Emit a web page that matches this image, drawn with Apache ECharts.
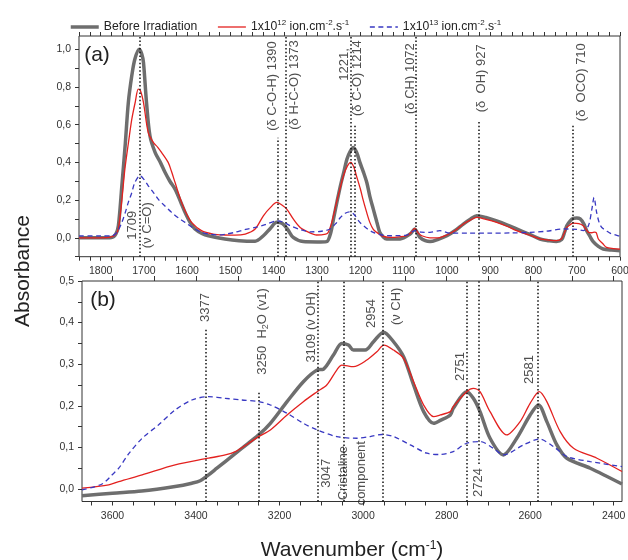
<!DOCTYPE html>
<html>
<head>
<meta charset="utf-8">
<script src="https://cdn.jsdelivr.net/npm/echarts@6/dist/echarts.min.js"></script>
<style>
html,body{margin:0;padding:0;background:#fff}
#chart{width:628px;height:560px}
</style>
</head>
<body>
<div id="chart"></div>
<script>
// ---------- Panel (a): 1850–600 cm-1 ----------
const beforeA = [
  [1850,0.0],[1800,0.0],[1775,0.002],[1765,0.02],[1759,0.064],[1751,0.276],[1743,0.50],
  [1736,0.717],[1728,0.86],[1721,0.947],[1711,1.0],[1705,0.975],[1701,0.929],[1694,0.717],
  [1686,0.54],[1674,0.452],[1662,0.40],[1651,0.346],[1640,0.30],[1628,0.258],[1615,0.19],
  [1605,0.135],[1594,0.085],[1582,0.047],[1565,0.022],[1551,0.011],[1513,-0.006],[1480,-0.015],
  [1443,-0.018],[1424,0.011],[1408,0.05],[1393,0.082],[1380,0.076],[1368,0.045],[1355,0.002],
  [1332,-0.02],[1300,-0.022],[1278,-0.02],[1268,0.03],[1262,0.1],[1254,0.19],[1246,0.276],
  [1238,0.35],[1231,0.417],[1223,0.46],[1216,0.479],[1208,0.45],[1201,0.40],[1193,0.35],
  [1185,0.293],[1178,0.22],[1170,0.152],[1162,0.085],[1155,0.029],[1147,0.005],[1139,-0.006],
  [1108,-0.006],[1085,0.02],[1074,0.047],[1068,0.025],[1062,0.002],[1050,-0.015],[1039,-0.02],
  [1020,-0.008],[1000,0.011],[980,0.04],[962,0.073],[945,0.10],[931,0.117],[910,0.108],
  [885,0.09],[860,0.068],[839,0.047],[810,0.02],[785,-0.006],[765,-0.015],[747,-0.02],
  [735,-0.01],[728,0.03],[723,0.064],[715,0.09],[708,0.103],[700,0.105],[692,0.1],[684,0.075],
  [677,0.038],[670,0.01],[662,-0.02],[650,-0.045],[639,-0.059],[620,-0.065],[600,-0.068]
];
const ion12A = [
  [1850,0.0],[1800,0.0],[1775,0.005],[1765,0.02],[1759,0.047],[1751,0.2],[1744,0.364],
  [1736,0.50],[1728,0.629],[1720,0.72],[1713,0.788],[1708,0.78],[1701,0.717],[1690,0.558],
  [1678,0.505],[1668,0.48],[1659,0.452],[1644,0.40],[1636,0.35],[1628,0.293],[1613,0.188],
  [1600,0.12],[1590,0.082],[1567,0.038],[1540,0.02],[1513,0.015],[1490,0.014],[1466,0.02],
  [1443,0.047],[1424,0.117],[1408,0.16],[1393,0.188],[1382,0.175],[1370,0.152],[1355,0.1],
  [1339,0.055],[1320,0.03],[1301,0.015],[1280,0.02],[1274,0.03],[1265,0.09],[1255,0.188],
  [1247,0.26],[1239,0.329],[1230,0.38],[1222,0.40],[1215,0.375],[1209,0.329],[1200,0.26],
  [1194,0.205],[1186,0.14],[1178,0.082],[1170,0.045],[1162,0.029],[1150,0.01],[1131,0.002],
  [1110,0.005],[1093,0.011],[1082,0.03],[1074,0.05],[1066,0.025],[1058,0.011],[1039,0.0],
  [1020,0.0],[1000,0.015],[980,0.04],[962,0.073],[945,0.095],[931,0.108],[910,0.098],
  [885,0.082],[860,0.06],[839,0.038],[810,0.015],[785,-0.006],[765,-0.012],[747,-0.015],
  [735,-0.005],[728,0.03],[723,0.055],[715,0.07],[708,0.078],[695,0.075],[685,0.064],
  [677,0.04],[673,0.029],[665,0.027],[659,0.03],[655,0.028],[650,-0.006],[640,-0.03],
  [631,-0.051],[615,-0.057],[600,-0.06]
];
const ion13A = [
  [1850,0.01],[1800,0.01],[1774,0.011],[1762,0.03],[1751,0.082],[1743,0.135],[1736,0.188],
  [1728,0.24],[1721,0.293],[1709,0.329],[1700,0.31],[1690,0.276],[1678,0.24],[1667,0.205],
  [1652,0.17],[1636,0.135],[1620,0.105],[1605,0.082],[1585,0.05],[1567,0.029],[1545,0.018],
  [1528,0.015],[1510,0.02],[1490,0.029],[1465,0.045],[1443,0.055],[1420,0.07],[1393,0.09],
  [1375,0.08],[1362,0.064],[1340,0.045],[1316,0.032],[1290,0.035],[1270,0.047],[1255,0.08],
  [1246,0.108],[1235,0.13],[1225,0.138],[1215,0.125],[1201,0.082],[1185,0.05],[1170,0.029],
  [1150,0.015],[1131,0.011],[1110,0.012],[1093,0.015],[1082,0.03],[1074,0.038],[1060,0.03],
  [1039,0.029],[1016,0.038],[993,0.025],[950,0.025],[900,0.025],[850,0.026],[808,0.029],
  [770,0.035],[731,0.047],[700,0.045],[685,0.038],[673,0.064],[665,0.152],[660,0.214],
  [654,0.135],[648,0.08],[642,0.055],[630,0.035],[623,0.025],[604,0.011],[600,0.01]
];

// ---------- Panel (b): 3673–2380 cm-1 ----------
const beforeB = [
  [3673,-0.016],[3600,-0.01],[3530,-0.005],[3450,0.006],[3410,0.014],[3390,0.02],[3370,0.034],
  [3350,0.05],[3330,0.066],[3290,0.098],[3250,0.13],[3222,0.158],[3182,0.21],[3143,0.258],
  [3110,0.286],[3095,0.288],[3071,0.322],[3051,0.35],[3035,0.346],[3023,0.334],[2995,0.334],
  [2975,0.354],[2951,0.377],[2927,0.354],[2903,0.318],[2879,0.25],[2855,0.186],[2831,0.158],
  [2815,0.165],[2791,0.178],[2784,0.194],[2752,0.234],[2736,0.218],[2720,0.186],[2696,0.122],
  [2664,0.082],[2632,0.122],[2600,0.178],[2580,0.202],[2560,0.162],[2536,0.106],[2512,0.074],
  [2456,0.05],[2380,0.012]
];
const ion12B = [
  [3673,0.002],[3609,0.01],[3585,0.018],[3529,0.034],[3450,0.058],[3370,0.074],[3330,0.082],
  [3306,0.09],[3274,0.11],[3250,0.126],[3222,0.142],[3182,0.178],[3143,0.21],[3110,0.234],
  [3087,0.25],[3063,0.286],[3051,0.298],[3023,0.294],[2991,0.31],[2967,0.33],[2950,0.346],
  [2927,0.334],[2903,0.314],[2879,0.258],[2855,0.202],[2831,0.174],[2815,0.178],[2791,0.186],
  [2784,0.198],[2752,0.234],[2736,0.242],[2720,0.234],[2696,0.186],[2656,0.13],[2624,0.162],
  [2600,0.206],[2578,0.234],[2560,0.21],[2528,0.138],[2496,0.098],[2440,0.074],[2380,0.042]
];
const ion13B = [
  [3673,-0.002],[3625,0.012],[3600,0.035],[3585,0.05],[3561,0.085],[3529,0.122],[3490,0.154],
  [3450,0.19],[3410,0.214],[3370,0.222],[3330,0.218],[3290,0.214],[3250,0.21],[3222,0.202],
  [3182,0.182],[3143,0.158],[3110,0.142],[3063,0.126],[3015,0.122],[2983,0.126],[2955,0.131],
  [2927,0.126],[2887,0.106],[2847,0.086],[2815,0.083],[2784,0.09],[2752,0.11],[2720,0.114],
  [2688,0.098],[2664,0.082],[2616,0.106],[2578,0.12],[2544,0.102],[2512,0.078],[2456,0.066],
  [2380,0.054]
];

// Tick labels
const xLabelsA = [1800,1700,1600,1500,1400,1300,1200,1100,1000,900,800,700,600];
const yLabelsA = [0,0.2,0.4,0.6,0.8,1.0];
const xLabelsB = [3600,3400,3200,3000,2800,2600,2400];
const yLabelsB = [0,0.1,0.2,0.3,0.4,0.5];

// Assigned band positions (cm-1)
const bandsA = [1709,1390,1373,1221,1214,1072,927,710];
const bandsB = [3377,3250,3109,3047,2954,2751,2724,2581];

// Vertical extent of each band marker, in absorbance units
const spanA = [[-0.1,1.07],[-0.1,0.53],[-0.1,1.07],[-0.1,1.07],[-0.1,0.60],[-0.1,1.07],[-0.1,0.62],[-0.1,0.605]];
const spanB = [[-0.03,0.385],[-0.03,0.235],[-0.03,0.5],[-0.03,0.5],[-0.03,0.5],[-0.03,0.5],[0.06,0.5],[-0.03,0.5]];

// Band captions: anchor 'top' hangs the text down from the point,
// 'bottom' stands it up from the point, 'center' centres it.
const captionsA = [
  {text:'1709\n(ν C=O)', at:[1709,0.067], anchor:'center', lh:15},
  {text:'(δ C-O-H) 1390', at:[1404,1.042], anchor:'top'},
  {text:'(δ H-C-O) 1373', at:[1353,1.048], anchor:'top'},
  {text:'1221,', at:[1236,1.005], anchor:'top'},
  {text:'(δ C-O) 1214', at:[1206,1.048], anchor:'top'},
  {text:'(δ CH) 1072', at:[1085,1.032], anchor:'top'},
  {text:'(δ  OH) 927', at:[920,1.026], anchor:'top'},
  {text:'(δ  OCO) 710', at:[690,1.032], anchor:'top'}
];
const captionsB = [
  {text:'3377', at:[3377,0.471], anchor:'top'},
  {text:'3250  H{sub|2}O (v1)', at:[3240,0.483], anchor:'top'},
  {text:'3109 (ν OH)', at:[3123,0.474], anchor:'top'},
  {text:'3047\nCristaline\ncomponent', at:[3047,0.038], anchor:'center', lh:17.5},
  {text:'2954', at:[2979,0.387], anchor:'bottom'},
  {text:'(ν CH)', at:[2921,0.394], anchor:'bottom'},
  {text:'2751', at:[2768,0.329], anchor:'top'},
  {text:'2724', at:[2724,-0.019], anchor:'bottom'},
  {text:'2581', at:[2601,0.322], anchor:'top'}
];

const FONT = 'Liberation Sans, Arial, sans-serif';
const INK = '#222';

function steps(from, to, step) {
  const out = [];
  const n = Math.round((to - from) / step);
  for (let i = 0; i <= n; i++) out.push(+(from + i * step).toFixed(4));
  return out;
}
const comma = v => v.toFixed(1).replace('.', ',');
const plain = v => String(v);

function xAxisCfg(grid, pos, min, max, ticks, labels, tickLen) {
  return {
    type: 'value', gridIndex: grid, position: pos, min: min, max: max, inverse: true,
    axisLine: {show: false, onZero: false},
    splitLine: {show: false},
    axisTick: {show: true, customValues: ticks, length: tickLen, lineStyle: {color: '#333', width: 1}},
    axisLabel: labels ? {customValues: labels, formatter: plain, margin: 9, fontSize: 10.5, color: '#333', fontFamily: FONT}
                      : {show: false}
  };
}
function yAxisCfg(grid, min, max, ticks, labels) {
  return {
    type: 'value', gridIndex: grid, min: min, max: max,
    axisLine: {show: false, onZero: false},
    splitLine: {show: false},
    axisTick: {show: true, customValues: ticks, length: 4, lineStyle: {color: '#333', width: 1}},
    axisLabel: {customValues: labels, formatter: comma, margin: 8, fontSize: 10.5, color: '#333', fontFamily: FONT}
  };
}

const ALIGN = {top: 'right', bottom: 'left', center: 'center'};
function captionSeries(caps, bands, spans, xi, yi) {
  return {
    type: 'scatter', xAxisIndex: xi, yAxisIndex: yi, symbolSize: 0, clip: false, silent: true,
    label: {
      show: true, position: 'inside', rotate: 90, fontSize: 13, color: INK, fontFamily: FONT,
      rich: {sub: {fontSize: 9, verticalAlign: 'bottom', fontFamily: FONT, color: INK}}
    },
    data: caps.map(c => ({
      value: c.at,
      label: {formatter: c.text, align: ALIGN[c.anchor], verticalAlign: 'middle', lineHeight: c.lh || 15}
    })),
    markLine: {
      silent: true, symbol: ['none', 'none'], animation: false,
      label: {show: false},
      lineStyle: {color: '#111', type: [1.5, 2.2], width: 1.5},
      data: bands.map((b, i) => [{coord: [b, spans[i][0]]}, {coord: [b, spans[i][1]]}])
    }
  };
}

const NAMES = ['Before Irradiation', 'ion12', 'ion13'];
const LEGEND_TEXT = {
  'Before Irradiation': 'Before Irradiation',
  'ion12': '1x10{sup|12} ion.cm{sup|-2}.s{sup|-1}',
  'ion13': '1x10{sup|13} ion.cm{sup|-2}.s{sup|-1}'
};
const STYLE = [
  {color: '#6e6e6e', lineStyle: {width: 3.5, color: '#6e6e6e'}},
  {color: '#e3211f', lineStyle: {width: 1.3, color: '#e3211f'}},
  {color: '#3838c2', lineStyle: {width: 1.3, color: '#3838c2', type: [5, 3.5]}}
];
function curve(i, data, xi, yi) {
  return Object.assign({
    name: NAMES[i], type: 'line', xAxisIndex: xi, yAxisIndex: yi, data: data,
    symbol: 'none', smooth: 0.3, z: 3 + i
  }, STYLE[i]);
}

const chart = echarts.init(document.getElementById('chart'), null, {renderer: 'canvas'});
chart.setOption({
  animation: false,
  backgroundColor: '#fff',
  legend: {
    data: NAMES.map((n, i) => ({name: n, lineStyle: Object.assign({}, STYLE[i].lineStyle)})),
    left: 64, top: 14, itemWidth: 28, itemHeight: 14, itemGap: 20,
    formatter: n => LEGEND_TEXT[n],
    itemStyle: {opacity: 0},
    textStyle: {
      fontSize: 12.2, color: INK, fontFamily: FONT, lineHeight: 16,
      rich: {sup: {fontSize: 8, verticalAlign: 'top', fontFamily: FONT, color: INK}}
    }
  },
  grid: [
    {left: 79, top: 36, width: 541, height: 220.7, show: true, borderColor: '#333', borderWidth: 1,
     backgroundColor: 'transparent', containLabel: false, outerBoundsMode: 'none'},
    {left: 82, top: 281, width: 540, height: 220.5, show: true, borderColor: '#333', borderWidth: 1,
     backgroundColor: 'transparent', containLabel: false, outerBoundsMode: 'none'}
  ],
  xAxis: [
    xAxisCfg(0, 'bottom', 600, 1850, steps(600, 1850, 25), xLabelsA, 4),
    xAxisCfg(0, 'top', 600, 1850, steps(600, 1850, 25), null, 4),
    xAxisCfg(1, 'bottom', 2380, 3673, steps(2400, 3650, 50), xLabelsB, 4),
    xAxisCfg(1, 'top', 2380, 3673, steps(2400, 3600, 100), null, 5)
  ],
  yAxis: [
    yAxisCfg(0, -0.1, 1.07, steps(-0.1, 1.0, 0.1), yLabelsA),
    yAxisCfg(1, -0.03, 0.5, steps(0, 0.5, 0.05), yLabelsB)
  ],
  series: [
    curve(0, beforeA, 0, 0), curve(1, ion12A, 0, 0), curve(2, ion13A, 0, 0),
    curve(0, beforeB, 2, 1), curve(1, ion12B, 2, 1), curve(2, ion13B, 2, 1),
    captionSeries(captionsA, bandsA, spanA, 0, 0),
    captionSeries(captionsB, bandsB, spanB, 2, 1)
  ],
  graphic: [
    {type: 'text', x: 97, y: 55, style: {text: '(a)', fontSize: 21, fontFamily: FONT, fill: INK, align: 'center', verticalAlign: 'middle'}},
    {type: 'text', x: 103, y: 300, style: {text: '(b)', fontSize: 21, fontFamily: FONT, fill: INK, align: 'center', verticalAlign: 'middle'}},
    {type: 'text', x: 23, y: 271, rotation: Math.PI / 2,
     style: {text: 'Absorbance', fontSize: 21, fontFamily: FONT, fill: INK, align: 'center', verticalAlign: 'middle'}},
    {type: 'text', x: 352, y: 550,
     style: {text: 'Wavenumber (cm{sup|-1})', fontSize: 21, fontFamily: FONT, fill: INK, align: 'center', verticalAlign: 'middle',
             rich: {sup: {fontSize: 12, verticalAlign: 'top', fontFamily: FONT, fill: INK}}}}
  ]
});
</script>
</body>
</html>
